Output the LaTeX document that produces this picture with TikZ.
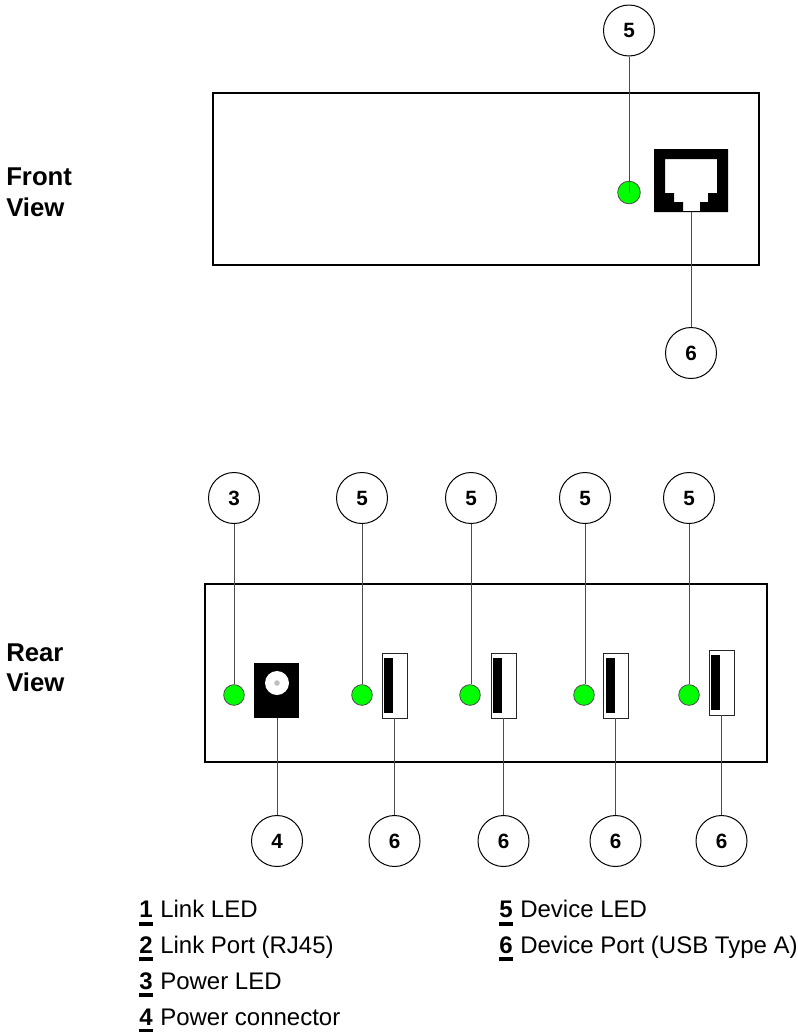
\documentclass[tikz,border=0pt]{standalone}
\usepackage{fontspec}
\setmainfont{Liberation Sans}
\tikzset{
  x=0.75pt,y=-0.75pt,
  callout/.style={circle,draw=black,line width=0.75pt,minimum size=38.25pt,inner sep=0pt,font=\fontsize{15.5}{15.5}\selectfont\bfseries,fill=white},
  ledfront/.style={circle,draw=black!70,line width=0.6pt,fill=green,minimum size=17pt,inner sep=0pt},
  ledrear/.style={circle,draw=black!70,line width=0.6pt,fill=green,minimum size=15.5pt,inner sep=0pt},
  case/.style={draw=black,line width=1pt},
  usb/.style={draw=black!85,line width=0.75pt,fill=white,inner sep=0pt},
  wire/.style={draw=black!70,line width=0.75pt},
  viewlabel/.style={anchor=base west,inner sep=0pt,font=\fontsize{19.3}{19.3}\selectfont\bfseries},
  legend/.style={anchor=base west,inner sep=0pt,font=\fontsize{18}{18}\selectfont},
  legnum/.style={anchor=base west,inner sep=0pt,font=\fontsize{18}{18}\selectfont\bfseries},
  bar/.style={draw=none,fill=black}
}
\begin{document}
\begin{tikzpicture}
\useasboundingbox (0,0) rectangle (797,1032);
\fill[white] (0,0) rectangle (797,1032);
% cases
\draw[case,line width=0.9pt] (213,93) rectangle (759,265);
\draw[case,line width=1.5pt] (205,584) rectangle (767,762);
% view labels
\node[viewlabel] (f1) at (6,185) {Front};
\node[viewlabel] (f2) at (6,216.5) {View};
\node[viewlabel] (r1) at (6,661) {Rear};
\node[viewlabel] (r2) at (6,691) {View};
% front panel
\node[ledfront] (fled) at (629,192.5) {};
\fill[black,even odd rule] (654,149) rectangle (728,212)
  (665,159) -- (717,159) -- (717,193) -- (708,193) -- (708,202) -- (700,202) -- (700,211) -- (683,211) -- (683,202) -- (674,202) -- (674,193) -- (665,193) -- cycle;
\coordinate (rj) at (691,212);
\node[callout] (cf5) at (629,30.5) {5};
\node[callout] (cf6) at (691,353) {6};
\draw[wire] (cf5) -- (fled.center);
\draw[wire] (rj) -- (cf6);
% rear LEDs
\node[ledrear] (l3) at (234,695) {};
\node[ledrear] (l5a) at (362,695) {};
\node[ledrear] (l5b) at (470,695) {};
\node[ledrear] (l5c) at (584,695) {};
\node[ledrear] (l5d) at (689,695) {};
% power jack
\fill[black] (254,663) rectangle (299,718);
\fill[white] (277,683) circle[radius=12];
\fill[black!25] (277,683) circle[radius=2.8];
\coordinate (pw) at (277,718);
% usb ports
\foreach \n/\xa/\ya/\off in {ua/382/653/2,ub/491/653/2,uc/603/653/3,ud/709/650/2}{
  \draw[usb] (\xa,\ya) rectangle ++(25.5,65);
  \fill[black] (\xa+\off,\ya+5) rectangle ++(9,55);
  \coordinate (\n) at (\xa+12.5,\ya+65);
}
% callouts
\node[callout] (c3) at (234,498) {3};
\node[callout] (c5a) at (362,498) {5};
\node[callout] (c5b) at (471,498) {5};
\node[callout] (c5c) at (585,498) {5};
\node[callout] (c5d) at (689,498) {5};
\node[callout] (c4) at (277,841) {4};
\node[callout] (c6a) at (394.5,841) {6};
\node[callout] (c6b) at (503.5,841) {6};
\node[callout] (c6c) at (615.5,841) {6};
\node[callout] (c6d) at (721.5,841) {6};
\draw[wire] (c3) -- (l3);
\draw[wire] (c5a) -- (l5a);
\draw[wire] (c5b.south) -- (c5b.south |- l5b.north);
\draw[wire] (c5c.south) -- (c5c.south |- l5c.north);
\draw[wire] (c5d) -- (l5d);
\draw[wire] (pw) -- (c4);
\draw[wire] (ua) -- (c6a);
\draw[wire] (ub) -- (c6b);
\draw[wire] (uc) -- (c6c);
\draw[wire] (ud) -- (c6d);
% legend
\foreach \n/\t/\xa/\ya in {1/Link LED/139/917.5,2/Link Port (RJ45)/139/953,3/Power LED/139/989,4/Power connector/139/1025,5/Device LED/499/917.5,6/Device Port (USB Type A)/499/953}{
  \node[legnum] (n\n) at (\xa,\ya) {\n};
  \fill[bar] (\xa,\ya+4) rectangle ++(14,4);
  \node[legend] (t\n) at (\xa+21,\ya) {\t};
}
\end{tikzpicture}
\end{document}
